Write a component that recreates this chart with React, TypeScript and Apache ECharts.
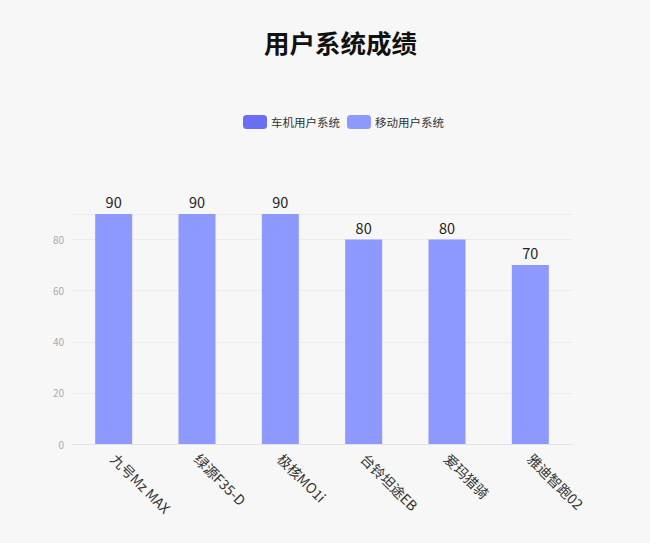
import { useRef, useEffect } from 'react'
import * as echarts from 'echarts'

const categories = ['九号Mz MAX', '绿源F35-D', '极核MO1i', '台铃坦途EB', '爱玛猎骑', '雅迪智跑02']
const carSystem: number[] = []
const mobileSystem = [90, 90, 90, 80, 80, 70]
const seriesNames = ['车机用户系统', '移动用户系统']

export default function App() {
  const chartRef = useRef<HTMLDivElement>(null)

  useEffect(() => {
    document.body.style.margin = '0'
    if (!chartRef.current) return
    const chart = echarts.init(chartRef.current, null, { renderer: 'svg' })
    chart.setOption({
      animation: false,
      backgroundColor: '#f7f7f7',
      textStyle: { fontFamily: '"Noto Sans CJK SC", "Noto Sans", sans-serif' },
      title: {
        text: '用户系统成绩',
        left: 259,
        top: 24,
        textStyle: { fontSize: 25.5, fontWeight: 'bold', color: '#111' }
      },
      legend: {
        data: seriesNames,
        left: 243,
        top: 115,
        itemWidth: 24,
        itemHeight: 14,
        itemGap: 7,
        padding: 0,
        textStyle: { fontSize: 11.5, color: '#333', padding: [0, 0, 0, -1] }
      },
      grid: { left: 72, right: 78, top: 214, bottom: 99, containLabel: false },
      xAxis: {
        type: 'category',
        data: categories,
        axisTick: { show: false },
        axisLine: { lineStyle: { color: '#e2e2e2' } },
        axisLabel: { rotate: -45, fontSize: 14, color: '#333', margin: 12, interval: 0 }
      },
      yAxis: {
        type: 'value',
        min: 0,
        max: 90,
        interval: 20,
        axisLine: { show: false },
        axisTick: { show: false },
        axisLabel: { fontSize: 10, color: '#aaa', margin: 8, showMaxLabel: false },
        splitLine: { lineStyle: { color: '#ebebeb' } }
      },
      series: [
        {
          name: seriesNames[0],
          type: 'bar',
          stack: 'total',
          barWidth: 37,
          data: carSystem,
          itemStyle: { color: '#6a6ef2' }
        },
        {
          name: seriesNames[1],
          type: 'bar',
          stack: 'total',
          barWidth: 37,
          data: mobileSystem,
          itemStyle: { color: '#8e99fd' },
          label: { show: true, position: 'top', fontSize: 14.5, color: '#222', distance: 5 }
        }
      ]
    })
    return () => chart.dispose()
  }, [])

  return <div ref={chartRef} style={{ width: 650, height: 543 }} />
}
